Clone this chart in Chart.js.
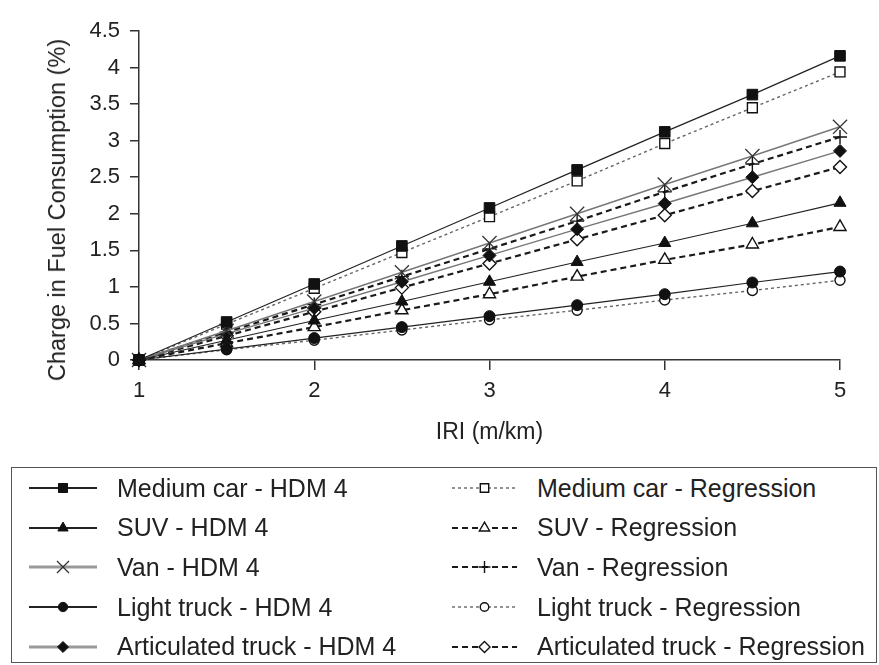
<!DOCTYPE html>
<html>
<head>
<meta charset="utf-8">
<script src="https://cdn.jsdelivr.net/npm/chart.js@4.4.1/dist/chart.umd.min.js"></script>
<style>
  body { margin: 0; background: #fff; font-family: "Liberation Sans", Arial, sans-serif; color: #222; }
  #wrap { position: relative; width: 879px; height: 665px; }
  #chart { position: absolute; left: 0; top: 0; }
  #ytitle { position: absolute; left: 57px; top: 210px; transform: translate(-50%, -50%) rotate(-90deg);
            font-size: 23.5px; white-space: nowrap; color: #222; line-height: 28px; }
  #legend { position: absolute; left: 11px; top: 467px; width: 866px; height: 196px;
            box-sizing: border-box; border: 1.5px solid #555; }
  .item { position: absolute; height: 40px; display: flex; align-items: center;
          font-size: 25px; white-space: nowrap; color: #222; }
  .item canvas { margin-right: 20px; }
</style>
</head>
<body>
<div id="wrap">
  <canvas id="chart" width="879" height="465"></canvas>
  <div id="ytitle"></div>
  <div id="legend"></div>
</div>
<script>
// IRI values on the x axis
const iri = [1, 1.5, 2, 2.5, 3, 3.5, 4, 4.5, 5];

// change in fuel consumption (%)
const mediumCarHdm = [0, 0.52, 1.04, 1.56, 2.08, 2.6, 3.12, 3.63, 4.16];
const mediumCarReg = [0, 0.49, 0.98, 1.47, 1.96, 2.45, 2.96, 3.45, 3.94];
const suvHdm = [0, 0.27, 0.54, 0.8, 1.07, 1.34, 1.6, 1.87, 2.15];
const suvReg = [0, 0.23, 0.45, 0.68, 0.9, 1.14, 1.37, 1.58, 1.82];
const vanHdm = [0, 0.4, 0.8, 1.2, 1.6, 2.0, 2.4, 2.79, 3.19];
const vanReg = [0, 0.38, 0.76, 1.14, 1.52, 1.9, 2.3, 2.68, 3.05];
const lightTruckHdm = [0, 0.15, 0.3, 0.45, 0.6, 0.75, 0.9, 1.06, 1.21];
const lightTruckReg = [0, 0.14, 0.27, 0.41, 0.55, 0.68, 0.82, 0.95, 1.09];
const artTruckHdm = [0, 0.36, 0.71, 1.07, 1.43, 1.79, 2.14, 2.5, 2.86];
const artTruckReg = [0, 0.33, 0.66, 0.99, 1.32, 1.65, 1.98, 2.31, 2.64];

const hdmLabels = ["Medium car - HDM 4", "SUV - HDM 4", "Van - HDM 4", "Light truck - HDM 4", "Articulated truck - HDM 4"];
const regLabels = ["Medium car - Regression", "SUV - Regression", "Van - Regression", "Light truck - Regression", "Articulated truck - Regression"];
const xTitle = "IRI (m/km)";
const yTitle = "Charge in Fuel Consumption (%)";

Chart.defaults.font.family = "'Liberation Sans', Arial, sans-serif";
Chart.defaults.color = "#222";

const toPoints = (arr) => arr.map((y, i) => ({ x: iri[i], y: y }));

const solidBlack = { borderColor: "#222", borderWidth: 1.2, borderDash: [] };
const solidGray = { borderColor: "#777", borderWidth: 1.4, borderDash: [] };
const thinDash = { borderColor: "#666", borderWidth: 1.4, borderDash: [3, 3] };
const boldDash = { borderColor: "#1a1a1a", borderWidth: 2.2, borderDash: [6, 4] };

const filled = { pointBackgroundColor: "#111", pointBorderColor: "#111", pointBorderWidth: 1 };
const open = { pointBackgroundColor: "#fff", pointBorderColor: "#111", pointBorderWidth: 1.4 };

const datasets = [
  { label: hdmLabels[0], data: toPoints(mediumCarHdm), ...solidBlack, ...filled, pointStyle: "rect", pointRadius: 7.5, col: 0, row: 0 },
  { label: hdmLabels[1], data: toPoints(suvHdm), ...solidBlack, ...filled, pointStyle: "triangle", pointRadius: 7, col: 0, row: 1 },
  { label: hdmLabels[2], data: toPoints(vanHdm), ...solidGray, pointBackgroundColor: "#333", pointBorderColor: "#333", pointBorderWidth: 1.3, pointStyle: "crossRot", pointRadius: 10, col: 0, row: 2 },
  { label: hdmLabels[3], data: toPoints(lightTruckHdm), ...solidBlack, ...filled, pointStyle: "circle", pointRadius: 5.5, col: 0, row: 3 },
  { label: hdmLabels[4], data: toPoints(artTruckHdm), ...solidGray, ...filled, pointStyle: "rectRot", pointRadius: 6.5, col: 0, row: 4 },
  { label: regLabels[0], data: toPoints(mediumCarReg), ...thinDash, ...open, pointStyle: "rect", pointRadius: 7, col: 1, row: 0 },
  { label: regLabels[1], data: toPoints(suvReg), ...boldDash, ...open, pointStyle: "triangle", pointRadius: 7, col: 1, row: 1 },
  { label: regLabels[2], data: toPoints(vanReg), ...boldDash, ...open, pointStyle: "cross", pointRadius: 7, col: 1, row: 2 },
  { label: regLabels[3], data: toPoints(lightTruckReg), ...thinDash, ...open, pointStyle: "circle", pointRadius: 5, col: 1, row: 3 },
  { label: regLabels[4], data: toPoints(artTruckReg), ...boldDash, ...open, pointStyle: "rectRot", pointRadius: 6.5, col: 1, row: 4 },
];
datasets.forEach(d => { d.tension = 0; d.fill = false; d.clip = false; });

const axisColor = "#333";

new Chart(document.getElementById("chart"), {
  type: "line",
  data: { datasets: datasets },
  options: {
    responsive: false,
    animation: false,
    layout: { padding: { top: 31, right: 39, left: 0, bottom: 0 } },
    plugins: { legend: { display: false }, tooltip: { enabled: false } },
    scales: {
      x: {
        type: "linear",
        min: 1,
        max: 5,
        ticks: { stepSize: 1, font: { size: 22 }, padding: 8, color: "#222" },
        grid: { drawOnChartArea: false, drawTicks: true, tickLength: 10, color: axisColor, lineWidth: 1.5 },
        border: { display: true, color: axisColor, width: 1.5 },
        title: { display: true, text: xTitle, font: { size: 23 }, color: "#222", padding: { top: 4, bottom: 19 } },
        afterFit: (s) => { s.height = 465 - 360; }
      },
      y: {
        min: 0,
        max: 4.5,
        ticks: { stepSize: 0.5, font: { size: 22 }, padding: 10, color: "#222", callback: (v) => String(v) },
        grid: { drawOnChartArea: false, drawTicks: true, tickLength: 9, color: axisColor, lineWidth: 1.5 },
        border: { display: true, color: axisColor, width: 1.5 },
        afterFit: (s) => { s.width = 139; }
      }
    }
  }
});

document.getElementById("ytitle").textContent = yTitle;

// legend markers, same shapes as the chart points
function drawMarker(ctx, style, r, x, y, fill) {
  ctx.beginPath();
  if (style === "rect") {
    const s = r * Math.SQRT1_2;
    ctx.rect(x - s, y - s, 2 * s, 2 * s);
  } else if (style === "triangle") {
    ctx.moveTo(x, y - r);
    ctx.lineTo(x + Math.sin(2 * Math.PI / 3) * r, y - Math.cos(2 * Math.PI / 3) * r);
    ctx.lineTo(x + Math.sin(4 * Math.PI / 3) * r, y - Math.cos(4 * Math.PI / 3) * r);
    ctx.closePath();
  } else if (style === "circle") {
    ctx.arc(x, y, r, 0, Math.PI * 2);
  } else if (style === "rectRot") {
    ctx.moveTo(x - r, y); ctx.lineTo(x, y - r); ctx.lineTo(x + r, y); ctx.lineTo(x, y + r);
    ctx.closePath();
  } else if (style === "crossRot") {
    const o = r * Math.SQRT1_2;
    ctx.moveTo(x - o, y - o); ctx.lineTo(x + o, y + o);
    ctx.moveTo(x + o, y - o); ctx.lineTo(x - o, y + o);
  } else if (style === "cross") {
    ctx.moveTo(x, y - r); ctx.lineTo(x, y + r);
    ctx.moveTo(x - r, y); ctx.lineTo(x + r, y);
  }
  if (style !== "crossRot" && style !== "cross") {
    ctx.fillStyle = fill;
    ctx.fill();
  }
  ctx.stroke();
}

const legend = document.getElementById("legend");
const colLeft = [17, 440];
const sampleW = [68, 65];
datasets.forEach(d => {
  const item = document.createElement("div");
  item.className = "item";
  item.style.left = colLeft[d.col] + "px";
  item.style.top = (d.row * 39.7) + "px";
  const c = document.createElement("canvas");
  c.width = sampleW[d.col];
  c.height = 40;
  const ctx = c.getContext("2d");
  const gray = d.borderColor === "#777";
  ctx.strokeStyle = d.col === 0 && gray ? "#999" : d.borderColor;
  ctx.lineWidth = d.col === 0 ? (gray ? 3 : 2) : d.borderWidth;
  ctx.setLineDash(d.borderDash);
  ctx.beginPath();
  ctx.moveTo(0, 20);
  ctx.lineTo(c.width, 20);
  ctx.stroke();
  ctx.setLineDash([]);
  ctx.strokeStyle = d.pointBorderColor;
  ctx.lineWidth = d.pointBorderWidth;
  drawMarker(ctx, d.pointStyle, d.pointRadius * 0.85, c.width / 2, 20, d.pointBackgroundColor);
  const t = document.createElement("span");
  t.textContent = d.label;
  item.appendChild(c);
  item.appendChild(t);
  legend.appendChild(item);
});
</script>
</body>
</html>
